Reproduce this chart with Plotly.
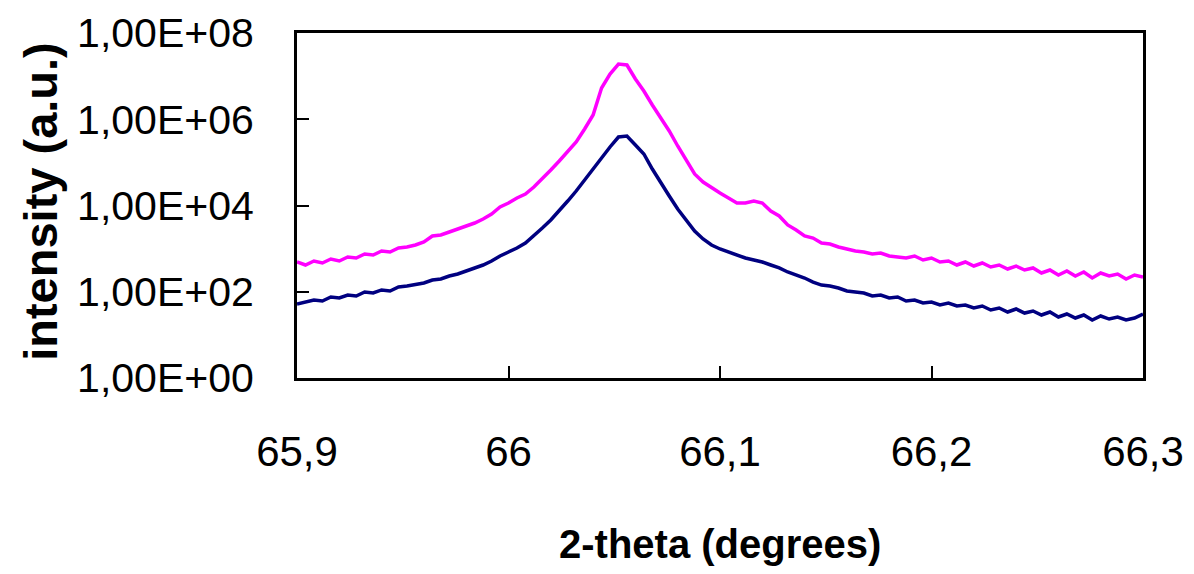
import numpy as np
import plotly.graph_objects as go

# 2-theta positions, one every 0.004 degrees from 65.9 to 66.3
two_theta = np.round(np.linspace(65.9, 66.3, 101), 3)

# upper (magenta) scan
intensity_magenta = [
    490, 417, 516, 464, 574, 516, 639, 606, 750, 711,
    881, 835, 1033, 1091, 1213, 1426, 1963, 2070, 2432, 2851,
    3350, 3927, 4864, 6353, 9226, 11430, 14930, 18490, 26850, 41120,
    66530, 107600, 174100, 296700, 594200, 1256000, 5308000, 11200000, 19100000, 18110000,
    8570000, 4519000, 2138000, 1069000, 534500, 239900, 113500, 53720, 35070, 25460,
    19500, 14930, 11430, 11430, 12710, 11430, 7447, 5715, 3532, 2704,
    1963, 1762, 1349, 1279, 1091, 980, 881, 835, 750, 792,
    675, 639, 606, 675, 545, 606, 490, 516, 417, 490,
    395, 464, 375, 417, 337, 395, 319, 356, 272, 319,
    245, 303, 232, 287, 208, 272, 232, 258, 198, 245,
    220,
]

# lower (navy) scan
intensity_navy = [
    52.0, 57.8, 64.4, 61.1, 75.5, 71.6, 84.1, 79.6, 98.6, 93.5,
    110, 104, 129, 136, 151, 160, 187, 198, 232, 258,
    303, 356, 417, 516, 675, 835, 1033, 1349, 1963, 3006,
    4613, 7447, 12710, 21680, 39000, 74130, 126200, 227500, 387300, 409300,
    252900, 156300, 70150, 33270, 16600, 8295, 4613, 2564, 1671, 1213,
    980, 835, 711, 606, 545, 490, 417, 356, 287, 245,
    208, 168, 143, 136, 122, 104, 98.6, 93.5, 79.6, 84.1,
    71.6, 75.5, 61.1, 64.4, 54.8, 57.8, 49.3, 54.8, 46.7, 49.3,
    42.0, 46.7, 37.7, 42.0, 33.9, 39.8, 32.1, 35.8, 28.9, 33.9,
    26.0, 30.5, 24.6, 28.9, 22.1, 27.4, 23.3, 26.0, 22.1, 24.6,
    30.5,
]

# axis ticks
x_tickvals = [65.9, 66.0, 66.1, 66.2, 66.3]
x_ticktext = ["65,9", "66", "66,1", "66,2", "66,3"]
y_tickvals = [1, 1e2, 1e4, 1e6, 1e8]
y_ticktext = ["1,00E+00", "1,00E+02", "1,00E+04", "1,00E+06", "1,00E+08"]

font = "Liberation Sans, Arial, sans-serif"

fig = go.Figure()
fig.add_trace(go.Scatter(x=two_theta, y=intensity_magenta, mode="lines",
                         line=dict(color="#FF00FF", width=3.5), name="magenta"))
fig.add_trace(go.Scatter(x=two_theta, y=intensity_navy, mode="lines",
                         line=dict(color="#000080", width=3.5), name="navy"))

# page body adds an 8px margin, so the figure is 8px smaller than the window
fig.update_layout(
    width=1186, height=566,
    margin=dict(l=289, r=51, t=25, b=196),
    paper_bgcolor="white", plot_bgcolor="white",
    showlegend=False,
    font=dict(family=font, color="black"),
    annotations=[
        dict(text="<b>2-theta (degrees)</b>", xref="paper", yref="paper",
             x=0.5, y=-0.481, xanchor="center", yanchor="middle",
             showarrow=False, font=dict(size=40, family=font)),
        dict(text="<b>intensity (a.u.)</b>", xref="paper", yref="paper",
             x=-0.304, y=0.513, xanchor="center", yanchor="middle",
             textangle=-90, showarrow=False, font=dict(size=47, family=font)),
    ],
)

fig.update_xaxes(
    range=[65.9, 66.3], tickvals=x_tickvals, ticktext=x_ticktext,
    ticks="inside", ticklen=12, tickwidth=2, tickcolor="black",
    showline=True, linewidth=3, linecolor="black", mirror=True,
    showgrid=False, zeroline=False, automargin=False,
    tickfont=dict(size=42), ticklabelstandoff=35,
)
fig.update_yaxes(
    type="log", range=[0, 8], tickvals=y_tickvals, ticktext=y_ticktext,
    ticks="inside", ticklen=12, tickwidth=2, tickcolor="black",
    showline=True, linewidth=3, linecolor="black", mirror=True,
    showgrid=False, zeroline=False, automargin=False,
    tickfont=dict(size=41), ticklabelstandoff=32,
)

fig.write_html("out.html")
